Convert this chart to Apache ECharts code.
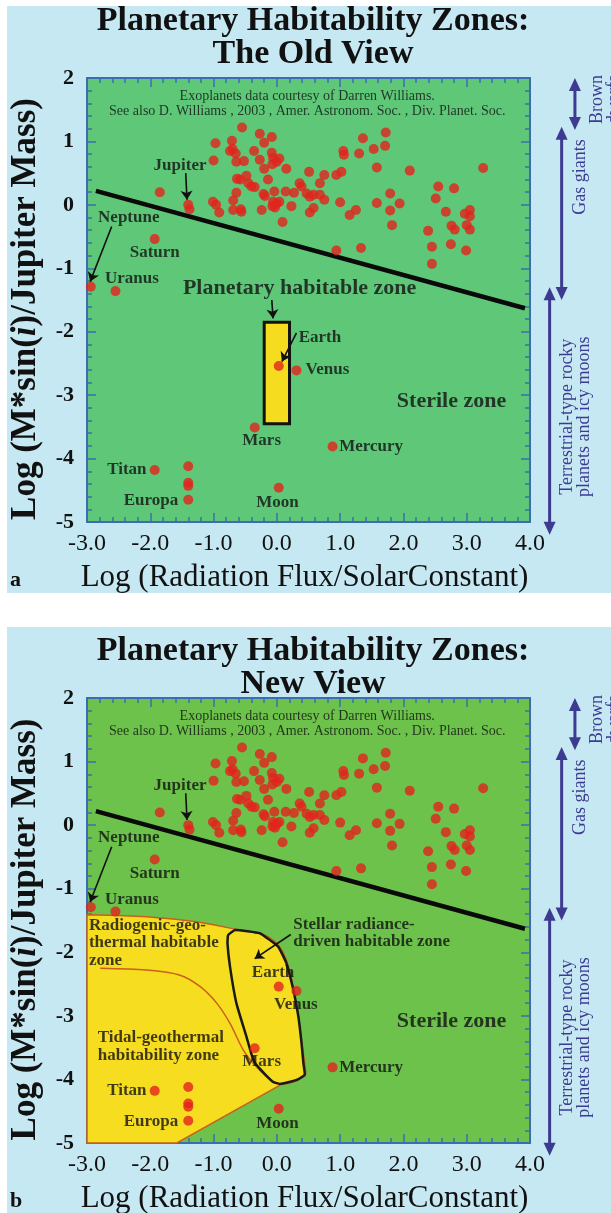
<!DOCTYPE html>
<html><head><meta charset="utf-8">
<script src="https://cdn.jsdelivr.net/npm/echarts/dist/echarts.min.js"></script>
<style>
html,body{margin:0;padding:0;background:#fff;width:611px;height:1213px;overflow:hidden;}
.bg{position:absolute;left:7px;width:604px;background:#c6e8f2;}
#chart{position:absolute;left:0;top:0;width:611px;height:1213px;}
</style></head><body>
<div class="bg" style="top:6px;height:587px"></div>
<div class="bg" style="top:627px;height:586px"></div>
<div id="chart"></div>
<script>
// ---------------- data ----------------
const xTickLabels = ['-3.0','-2.0','-1.0','0.0','1.0','2.0','3.0','4.0'];
const exoX = [-0.55,-0.27,-0.08,-0.97,-0.71,-0.20,-0.70,-0.74,-0.65,-0.64,-0.36,-0.08,-1.00,-0.52,-0.27,-0.06,0.04,0.00,-0.07,-0.20,0.15,0.51,0.75,0.94,1.02,1.05,1.06,1.30,1.36,1.53,1.72,1.71,1.58,2.10,3.26,-0.63,-0.58,-0.48,-0.45,-0.40,-0.35,-0.14,-0.64,-0.21,-0.19,-0.04,0.14,0.27,0.36,0.39,0.47,0.52,0.58,0.68,0.68,0.75,-1.01,-0.96,-0.91,-0.69,-0.69,-0.57,-0.56,-0.24,-0.06,0.00,0.04,-0.07,-0.03,0.23,0.52,0.58,0.09,1.00,1.15,1.25,1.58,1.79,1.79,1.94,1.82,-1.85,-1.38,0.94,1.33,2.55,2.80,2.51,2.67,2.39,2.76,2.81,2.97,3.05,3.05,3.00,3.05,2.45,2.75,2.99,2.45];
const exoY = [1.22,1.12,1.07,0.97,1.01,0.98,0.88,0.85,0.81,0.68,0.85,0.82,0.70,0.69,0.71,0.74,0.73,0.68,0.64,0.57,0.57,0.52,0.47,0.47,0.52,0.85,0.79,0.81,1.05,0.88,1.14,0.93,0.59,0.54,0.58,0.41,0.40,0.46,0.34,0.29,0.28,0.40,0.19,0.17,0.14,0.21,0.21,0.19,0.34,0.29,0.18,0.13,0.16,0.34,0.16,0.08,0.05,0.00,-0.12,0.07,-0.08,-0.07,-0.11,-0.08,0.05,0.02,0.05,-0.02,-0.04,-0.02,-0.12,-0.05,-0.27,0.04,-0.16,-0.08,0.03,0.18,-0.09,0.02,-0.32,0.20,-0.07,-0.72,-0.68,0.29,0.26,0.10,-0.11,-0.41,-0.33,-0.39,-0.14,-0.08,-0.18,-0.32,-0.39,-0.66,-0.62,-0.72,-0.93];
const solarNames = ['Jupiter','Saturn','Uranus','Neptune','Earth','Venus','Mars','Mercury','Titan','Europa','Ganymede','Callisto','Io','Moon'];
const solarX = [-1.40,-1.93,-2.55,-2.94,0.03,0.31,-0.35,0.88,-1.93,-1.40,-1.40,-1.40,-1.40,0.03];
const solarY = [0.00,-0.54,-1.36,-1.29,-2.54,-2.61,-3.51,-3.81,-4.18,-4.65,-4.12,-4.38,-4.43,-4.46];
// giant / terrestrial dividing line
const divideX = [-2.86, 3.92];
const divideY = [0.22, -1.63];
// old view: planetary habitable zone box
const boxX = [-0.20, 0.20];
const boxY = [-1.85, -3.45];
// new view: radiogenic-geothermal habitable region outline
const radioX = [-3.0,-2.5,-2.06,-1.6,-1.27,-0.98,-0.74,-0.50,-0.27,-0.12,0.0,0.09,0.15,0.21,0.26,0.34,0.39,0.44,0.46,0.42,0.36,0.20,0.05,-1.58,-3.0];
const radioY = [-1.41,-1.42,-1.44,-1.48,-1.52,-1.57,-1.62,-1.66,-1.70,-1.76,-1.86,-1.98,-2.12,-2.32,-2.54,-3.01,-3.38,-3.75,-3.90,-3.95,-3.98,-4.04,-4.09,-5.0,-5.0];
// tidal-geothermal boundary
const tidalX = [-2.79,-2.06,-1.53,-1.21,-0.95,-0.74,-0.53,-0.37,-0.16,0.0,0.26,0.46];
const tidalY = [-2.25,-2.28,-2.36,-2.54,-2.80,-3.12,-3.54,-3.75,-3.96,-4.06,-4.04,-3.90];
// stellar radiance-driven habitable zone outline
const stellarX = [-0.77,-0.66,-0.27,0.02,0.15,0.26,0.34,0.39,0.42,0.44,0.31,0.05,-0.06,-0.27,-0.37,-0.48,-0.64,-0.74,-0.78];
const stellarY = [-1.73,-1.65,-1.70,-1.91,-2.17,-2.59,-3.01,-3.43,-3.75,-3.93,-4.01,-4.07,-4.04,-3.83,-3.70,-3.33,-2.80,-2.23,-1.86];
// side range brackets (y ranges in log mass)
const sideNames = ['Brown\ndwarfs','Gas giants','Terrestrial-type rocky\nplanets and icy moons'];
const sideFrom = [2.0, 1.23, -1.30];
const sideTo = [1.18, -1.50, -5.20];

// ---------------- annotations (text in data coords) ----------------
const FONT = '"Liberation Serif","Times New Roman",Times,serif';
const creditText = 'Exoplanets data courtesy of Darren Williams.\nSee also D. Williams , 2003 , Amer. Astronom. Soc. , Div. Planet. Soc.';
const commonNotes = [
  {t: creditText, x: 0.48, y: 1.59, s: 14, w: 'normal', lh: 15},
  {t: 'Jupiter', x: -1.53, y: 0.62},
  {t: 'Neptune', x: -2.34, y: -0.20},
  {t: 'Saturn', x: -1.93, y: -0.76},
  {t: 'Uranus', x: -2.29, y: -1.17},
  {t: 'Sterile zone', x: 2.76, y: -3.09, s: 22},
  {t: 'Mars', x: -0.24, y: -3.72},
  {t: 'Mercury', x: 1.49, y: -3.81},
  {t: 'Titan', x: -2.37, y: -4.18},
  {t: 'Europa', x: -1.99, y: -4.66},
  {t: 'Moon', x: 0.01, y: -4.70}
];
const notesA = commonNotes.concat([
  {t: 'Planetary habitable zone', x: 0.36, y: -1.32, s: 22},
  {t: 'Earth', x: 0.68, y: -2.09},
  {t: 'Venus', x: 0.80, y: -2.59}
]);
const notesB = commonNotes.concat([
  {t: 'Earth', x: -0.06, y: -2.32},
  {t: 'Venus', x: 0.30, y: -2.82},
  {t: 'Stellar radiance-\ndriven habitable zone', x: 0.26, y: -1.70, a: 'left', lh: 17.5},
  {t: 'Radiogenic-geo-\nthermal habitable\nzone', x: -2.97, y: -1.85, a: 'left', lh: 17.5},
  {t: 'Tidal-geothermal\nhabitability zone', x: -2.83, y: -3.49, a: 'left', lh: 18}
]);
const commonArrows = [
  [-1.44, 0.50, -1.42, 0.08],
  [-2.61, -0.34, -2.95, -1.21]
];
const arrowsA = commonArrows.concat([[-0.08, -1.50, -0.06, -1.79], [0.31, -2.02, 0.08, -2.47]]);
const arrowsB = commonArrows.concat([[0.22, -1.72, -0.35, -2.10]]);

// ---------------- chart ----------------
const AX = '#3b6db0';
const chart = echarts.init(document.getElementById('chart'), null, {renderer: 'canvas'});
function xAxisDef(gi, pos, main) {
  return {
    type: 'value', gridIndex: gi, min: -3, max: 4, interval: 1, position: pos,
    axisLine: {show: true, onZero: false, lineStyle: {color: AX, width: 2}},
    axisTick: {show: true, inside: true, length: 9, lineStyle: {color: AX, width: 1.5}},
    minorTick: {show: true, splitNumber: 5, length: 5, lineStyle: {color: AX, width: 1.5}},
    splitLine: {show: false},
    axisLabel: {show: main, formatter: v => xTickLabels[Math.round(v + 3)], fontFamily: FONT, fontSize: 24, color: '#111', margin: 10},
    name: main ? 'Log (Radiation Flux/SolarConstant)' : '',
    nameLocation: 'middle', nameGap: 40,
    nameTextStyle: {fontFamily: FONT, fontSize: 31, color: '#111', padding: [0, 8, 0, 0]}
  };
}
function yAxisDef(gi, pos, main) {
  return {
    type: 'value', gridIndex: gi, min: -5, max: 2, interval: 1, position: pos,
    axisLine: {show: true, onZero: false, lineStyle: {color: AX, width: 2}},
    axisTick: {show: true, inside: true, length: 9, lineStyle: {color: AX, width: 1.5}},
    minorTick: {show: true, splitNumber: 5, length: 5, lineStyle: {color: AX, width: 1.5}},
    splitLine: {show: false},
    axisLabel: {show: main, fontFamily: FONT, fontSize: 22, fontWeight: 'bold', color: '#111', margin: 13},
    name: main ? 'Log (M*sin({i|i})/Jupiter Mass)' : '',
    nameLocation: 'middle', nameGap: 44, nameRotate: 90,
    nameTextStyle: {fontFamily: FONT, fontSize: 35, fontWeight: 'bold', color: '#111', padding: [0, 18, 0, 0],
      rich: {i: {fontFamily: FONT, fontSize: 35, fontWeight: 'bold', fontStyle: 'italic', color: '#111'}}}
  };
}
function labelSeries(p, notes) {
  return {
    type: 'scatter', xAxisIndex: p, yAxisIndex: p, symbolSize: 1, silent: true, z: 6,
    itemStyle: {color: 'rgba(0,0,0,0)'},
    data: notes.map(n => ({
      value: [n.x, n.y],
      label: {show: true, position: 'inside', formatter: n.t, align: n.a || 'center', verticalAlign: 'middle',
        fontFamily: FONT, fontSize: n.s || 17, fontWeight: n.w || 'bold', color: '#111', lineHeight: n.lh || undefined}
    }))
  };
}
function pointSeries(p) {
  return [{
    type: 'scatter', xAxisIndex: p, yAxisIndex: p, symbolSize: 10, silent: true, z: 5,
    itemStyle: {color: '#e4231d'},
    data: exoX.map((x, i) => [x, exoY[i]])
  }, {
    type: 'scatter', xAxisIndex: p, yAxisIndex: p, symbolSize: 10, silent: true, z: 5,
    itemStyle: {color: '#e4231d'},
    data: solarNames.map((n, i) => ({name: n, value: [solarX[i], solarY[i]]}))
  }];
}
function lineSeries(p) {
  return {
    type: 'line', xAxisIndex: p, yAxisIndex: p, symbol: 'none', silent: true, z: 4,
    lineStyle: {color: '#0a0a0a', width: 4.5},
    data: divideX.map((x, i) => [x, divideY[i]])
  };
}
function arrowSeries(p, arr) {
  return {
    type: 'lines', coordinateSystem: 'cartesian2d', xAxisIndex: p, yAxisIndex: p, silent: true, z: 6,
    symbol: ['none', 'arrow'], symbolSize: 9,
    lineStyle: {color: '#111', width: 1.6, opacity: 1, curveness: 0},
    data: arr.map(a => ({coords: [[a[0], a[1]], [a[2], a[3]]]}))
  };
}
const boxSeries = {
  type: 'custom', xAxisIndex: 0, yAxisIndex: 0, silent: true, z: 2, data: [[0, 0]],
  renderItem: (params, api) => {
    const p1 = api.coord([boxX[0], boxY[0]]);
    const p2 = api.coord([boxX[1], boxY[1]]);
    return {type: 'rect', shape: {x: p1[0], y: p1[1], width: p2[0] - p1[0], height: p2[1] - p1[1]},
      style: {fill: '#f6dc1e', stroke: '#111', lineWidth: 3}};
  }
};
const zoneSeries = {
  type: 'custom', xAxisIndex: 1, yAxisIndex: 1, silent: true, z: 2, data: [[0, 0]],
  renderItem: (params, api) => {
    const pts = (xs, ys) => xs.map((x, i) => api.coord([x, ys[i]]));
    return {type: 'group', children: [
      {type: 'polygon', shape: {points: pts(radioX, radioY)}, style: {fill: '#f7dd1f', stroke: '#c9601c', lineWidth: 1.5}},
      {type: 'polyline', shape: {points: pts(tidalX, tidalY), smooth: 0.3}, style: {fill: null, stroke: '#c9601c', lineWidth: 1.5}},
      {type: 'polygon', shape: {points: pts(stellarX, stellarY), smooth: 0.12}, style: {fill: null, stroke: '#1a1a1a', lineWidth: 2.5}}
    ]};
  }
};

const option = {
  animation: false,
  backgroundColor: 'transparent',
  title: [
    {text: 'Planetary Habitability Zones:\nThe Old View', left: 308, top: 0, textAlign: 'center',
      textStyle: {fontFamily: FONT, fontSize: 34, fontWeight: 'bold', color: '#111', lineHeight: 33}},
    {text: 'Planetary Habitability Zones:\nNew View', left: 308, top: 630, textAlign: 'center',
      textStyle: {fontFamily: FONT, fontSize: 34, fontWeight: 'bold', color: '#111', lineHeight: 33}}
  ],
  grid: [
    {left: 87, top: 78, width: 443, height: 444, show: true, backgroundColor: '#5fc878', borderWidth: 0, containLabel: false, outerBoundsMode: 'none'},
    {left: 87, top: 698, width: 443, height: 445, show: true, backgroundColor: '#6cc24b', borderWidth: 0, containLabel: false, outerBoundsMode: 'none'}
  ],
  xAxis: [xAxisDef(0, 'bottom', true), xAxisDef(1, 'bottom', true), xAxisDef(0, 'top', false), xAxisDef(1, 'top', false)],
  yAxis: [yAxisDef(0, 'left', true), yAxisDef(1, 'left', true), yAxisDef(0, 'right', false), yAxisDef(1, 'right', false)],
  series: [
    boxSeries, zoneSeries,
    lineSeries(0), lineSeries(1),
    ...pointSeries(0), ...pointSeries(1),
    arrowSeries(0, arrowsA), arrowSeries(1, arrowsB),
    labelSeries(0, notesA), labelSeries(1, notesB)
  ]
};
chart.setOption(option);

// side brackets, positioned through the axes
const SIDE = '#3d3a92';
const sideArrowX = [4.71, 4.50, 4.31];
const sideTextX = [5.20, 4.79, 4.72];
const sideTextY = [1.66, 0.44, -3.34];
const graphics = [
  {type: 'text', left: 10, top: 569, style: {text: 'a', font: 'bold 22px ' + FONT, fill: '#111'}},
  {type: 'text', left: 10, top: 1190, style: {text: 'b', font: 'bold 22px ' + FONT, fill: '#111'}}
];
[0, 1].forEach(p => {
  const f = {xAxisIndex: p, yAxisIndex: p};
  sideNames.forEach((name, i) => {
    const a = chart.convertToPixel(f, [sideArrowX[i], sideFrom[i]]);
    const b = chart.convertToPixel(f, [sideArrowX[i], sideTo[i]]);
    const hl = 13, hw = 6;
    graphics.push({type: 'line', shape: {x1: a[0], y1: a[1] + hl - 2, x2: b[0], y2: b[1] - hl + 2}, style: {stroke: SIDE, lineWidth: 3}});
    graphics.push({type: 'polygon', shape: {points: [[a[0], a[1]], [a[0] - hw, a[1] + hl], [a[0] + hw, a[1] + hl]]}, style: {fill: SIDE}});
    graphics.push({type: 'polygon', shape: {points: [[b[0], b[1]], [b[0] - hw, b[1] - hl], [b[0] + hw, b[1] - hl]]}, style: {fill: SIDE}});
    const t = chart.convertToPixel(f, [sideTextX[i], sideTextY[i]]);
    graphics.push({type: 'text', x: t[0], y: t[1], rotation: Math.PI / 2,
      style: {text: name, font: '18px ' + FONT, fill: SIDE, align: 'center', verticalAlign: 'middle', lineHeight: 17}});
  });
});
chart.setOption({graphic: graphics});
</script></body></html>
